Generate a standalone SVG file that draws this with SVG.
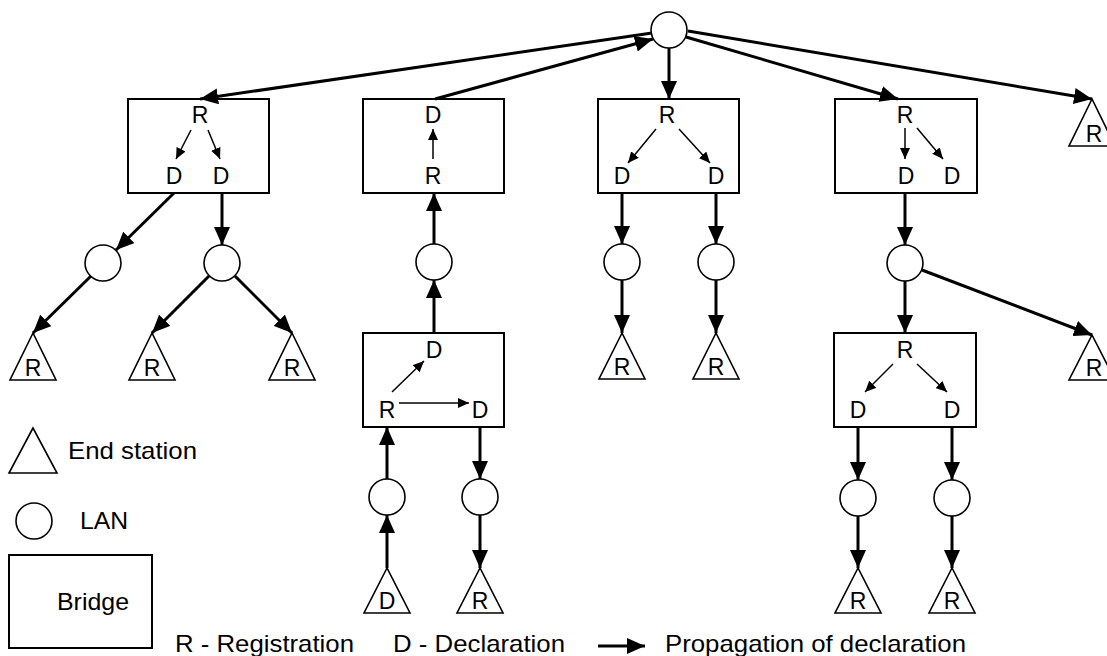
<svg xmlns="http://www.w3.org/2000/svg" width="1107" height="656" viewBox="0 0 1107 656">
<style>
.box{fill:#fff;stroke:#000;stroke-width:2}
.lan{fill:#fff;stroke:#000;stroke-width:1.6}
.es{fill:#fff;stroke:#000;stroke-width:1.6}
.lbl{font-family:"Liberation Sans",Arial,sans-serif;font-size:23px;text-anchor:middle;fill:#000}
.leg{font-family:"Liberation Sans",Arial,sans-serif;font-size:24px;fill:#000}
.thick{stroke:#000;stroke-width:3;fill:none;marker-end:url(#big)}
.thin{stroke:#000;stroke-width:1.5;fill:none;marker-end:url(#small)}
</style>
<defs>
<marker id="big" markerUnits="userSpaceOnUse" markerWidth="20" markerHeight="16" refX="18" refY="8" orient="auto"><path d="M0,0 L18,8 L0,16 z" fill="#000"/></marker>
<marker id="small" markerUnits="userSpaceOnUse" markerWidth="12" markerHeight="10" refX="11" refY="5" orient="auto"><path d="M0,0 L11,5 L0,10 z" fill="#000"/></marker>
</defs>
<rect width="1107" height="656" fill="#fff"/>

<g id="lan-top"><circle class="lan" cx="669" cy="30" r="18"/></g>

<g id="bridge1"><rect class="box" x="128" y="99" width="141" height="94"/>
<text class="lbl" x="200" y="123">R</text><text class="lbl" x="174" y="184">D</text><text class="lbl" x="221" y="184">D</text>
<path class="thin" d="M191,130 L176,159"/><path class="thin" d="M208,130 L220,159"/></g>

<g id="bridge2"><rect class="box" x="363" y="99" width="141" height="94"/>
<text class="lbl" x="433" y="123">D</text><text class="lbl" x="433" y="184">R</text>
<path class="thin" d="M433,159 L433,129"/></g>

<g id="bridge3"><rect class="box" x="598" y="99" width="141" height="94"/>
<text class="lbl" x="667" y="123">R</text><text class="lbl" x="622" y="184">D</text><text class="lbl" x="716" y="184">D</text>
<path class="thin" d="M656,129 L628,163"/><path class="thin" d="M679,129 L710,163"/></g>

<g id="bridge4"><rect class="box" x="835" y="99" width="142" height="94"/>
<text class="lbl" x="905" y="123">R</text><text class="lbl" x="906" y="184">D</text><text class="lbl" x="952" y="184">D</text>
<path class="thin" d="M905,128 L905,159"/><path class="thin" d="M917,128 L943,159"/></g>

<g id="es-top-right"><polygon class="es" points="1092,99 1069,146 1115,146"/><text class="lbl" x="1094" y="142">R</text></g>

<g id="lan-b1a"><circle class="lan" cx="103" cy="263" r="18"/></g>
<g id="lan-b1b"><circle class="lan" cx="222" cy="263" r="18"/></g>
<g id="es-1"><polygon class="es" points="33,333 10,380 56,380"/><text class="lbl" x="33" y="376">R</text></g>
<g id="es-2"><polygon class="es" points="152,333 129,380 175,380"/><text class="lbl" x="152" y="376">R</text></g>
<g id="es-3"><polygon class="es" points="292,333 269,380 315,380"/><text class="lbl" x="292" y="376">R</text></g>

<g id="lan-b2"><circle class="lan" cx="434" cy="262" r="18"/></g>
<g id="bridge2b"><rect class="box" x="363" y="333" width="141" height="94"/>
<text class="lbl" x="434" y="358">D</text><text class="lbl" x="387" y="418">R</text><text class="lbl" x="480" y="418">D</text>
<path class="thin" d="M392,392 L424,361"/><path class="thin" d="M399,403 L469,403"/></g>
<g id="lan-b2b-l"><circle class="lan" cx="387" cy="497" r="18"/></g>
<g id="lan-b2b-r"><circle class="lan" cx="480" cy="497" r="18"/></g>
<g id="es-d"><polygon class="es" points="387,568 364,613 410,613"/><text class="lbl" x="387" y="609">D</text></g>
<g id="es-4"><polygon class="es" points="480,568 457,613 503,613"/><text class="lbl" x="480" y="609">R</text></g>

<g id="lan-b3a"><circle class="lan" cx="622" cy="262" r="18"/></g>
<g id="lan-b3b"><circle class="lan" cx="716" cy="262" r="18"/></g>
<g id="es-5"><polygon class="es" points="622,333 599,379 645,379"/><text class="lbl" x="622" y="375">R</text></g>
<g id="es-6"><polygon class="es" points="716,333 693,379 739,379"/><text class="lbl" x="716" y="375">R</text></g>

<g id="lan-b4"><circle class="lan" cx="905" cy="263" r="18"/></g>
<g id="es-7"><polygon class="es" points="1092,335 1069,380 1115,380"/><text class="lbl" x="1094" y="376">R</text></g>
<g id="bridge5"><rect class="box" x="834" y="333" width="142" height="94"/>
<text class="lbl" x="905" y="358">R</text><text class="lbl" x="858" y="418">D</text><text class="lbl" x="952" y="418">D</text>
<path class="thin" d="M893,364 L865,392"/><path class="thin" d="M917,364 L947,392"/></g>
<g id="lan-b5a"><circle class="lan" cx="858" cy="498" r="18"/></g>
<g id="lan-b5b"><circle class="lan" cx="952" cy="498" r="18"/></g>
<g id="es-8"><polygon class="es" points="858,568 835,613 881,613"/><text class="lbl" x="858" y="609">R</text></g>
<g id="es-9"><polygon class="es" points="952,568 929,613 975,613"/><text class="lbl" x="952" y="609">R</text></g>

<g id="connectors">
<path class="thick" d="M652,33 L200,99"/>
<path class="thick" d="M435,99 L653,39"/>
<path class="thick" d="M669,48 L669,99"/>
<path class="thick" d="M686,37 L898,99"/>
<path class="thick" d="M688,31 L1092,99"/>
<path class="thick" d="M174,193 L116,250"/>
<path class="thick" d="M222,193 L222,245"/>
<path class="thick" d="M91,276 L33,333"/>
<path class="thick" d="M209,276 L152,333"/>
<path class="thick" d="M235,276 L292,333"/>
<path class="thick" d="M434,333 L434,280"/>
<path class="thick" d="M434,244 L434,193"/>
<path class="thick" d="M622,193 L622,244"/>
<path class="thick" d="M716,193 L716,244"/>
<path class="thick" d="M622,280 L622,333"/>
<path class="thick" d="M716,280 L716,333"/>
<path class="thick" d="M905,193 L905,245"/>
<path class="thick" d="M905,281 L905,333"/>
<path class="thick" d="M922,270 L1092,335"/>
<path class="thick" d="M387,568 L387,515"/>
<path class="thick" d="M387,479 L387,427"/>
<path class="thick" d="M480,427 L480,479"/>
<path class="thick" d="M480,515 L480,568"/>
<path class="thick" d="M858,427 L858,480"/>
<path class="thick" d="M952,427 L952,480"/>
<path class="thick" d="M858,516 L858,568"/>
<path class="thick" d="M952,516 L952,568"/>
</g>

<g id="legend">
<polygon class="es" points="33,428 9,473 57,473"/>
<text class="leg" x="68" y="459" textLength="129" lengthAdjust="spacingAndGlyphs">End station</text>
<circle class="lan" cx="34" cy="521" r="18"/>
<text class="leg" x="80" y="529" textLength="48" lengthAdjust="spacingAndGlyphs">LAN</text>
<rect class="box" x="9" y="555" width="143" height="93"/>
<text class="leg" x="57" y="610" textLength="72" lengthAdjust="spacingAndGlyphs">Bridge</text>
<text class="leg" x="175" y="652" textLength="179" lengthAdjust="spacingAndGlyphs">R - Registration</text>
<text class="leg" x="393" y="652" textLength="172" lengthAdjust="spacingAndGlyphs">D - Declaration</text>
<path class="thick" d="M598,646 L645,646"/>
<text class="leg" x="665" y="652" textLength="301" lengthAdjust="spacingAndGlyphs">Propagation of declaration</text>
</g>
</svg>
